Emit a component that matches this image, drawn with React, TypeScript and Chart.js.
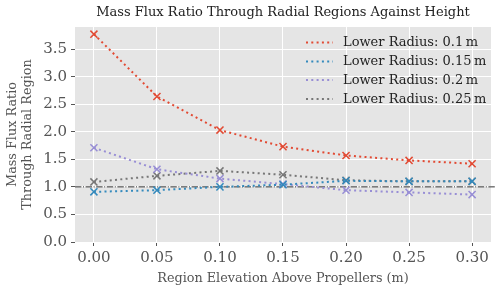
import React, { useEffect, useRef } from "react";
import { Chart, registerables } from "chart.js";

Chart.register(...registerables);

const xValues = [0, 0.05, 0.1, 0.15, 0.2, 0.25, 0.3];
const radius010 = [3.77, 2.64, 2.03, 1.73, 1.57, 1.48, 1.42];
const radius015 = [0.91, 0.94, 1.0, 1.04, 1.11, 1.1, 1.1];
const radius020 = [1.71, 1.32, 1.15, 1.05, 0.94, 0.9, 0.86];
const radius025 = [1.09, 1.2, 1.29, 1.22, 1.12, 1.1, 1.1];
const seriesLabels = [
  "Lower Radius: 0.1\u2009m",
  "Lower Radius: 0.15\u2009m",
  "Lower Radius: 0.2\u2009m",
  "Lower Radius: 0.25\u2009m",
];
const seriesColors = ["#E24A33", "#348ABD", "#988ED5", "#777777"];
const xTicks = [0, 0.05, 0.1, 0.15, 0.2, 0.25, 0.3];
const yTicks = [0, 0.5, 1.0, 1.5, 2.0, 2.5, 3.0, 3.5];
const referenceValue = 1.0;
const chartTitle = "Mass Flux Ratio Through Radial Regions Against Height";

const FONT = "'DejaVu Serif', serif";

export default function App() {
  const ref = useRef<HTMLCanvasElement | null>(null);

  useEffect(() => {
    document.body.style.margin = "0";
    const canvas = ref.current;
    if (!canvas) return;
    const allSeries = [radius010, radius015, radius020, radius025];

    const bgPlugin = {
      id: "bgPlugin",
      beforeDraw(chart: any) {
        const { ctx, chartArea } = chart;
        ctx.save();
        ctx.fillStyle = "#E5E5E5";
        ctx.fillRect(chartArea.left, chartArea.top, chartArea.right - chartArea.left, chartArea.bottom - chartArea.top);
        ctx.restore();
      },
      beforeDatasetsDraw(chart: any) {
        const { ctx, chartArea, scales } = chart;
        const y = scales.y.getPixelForValue(referenceValue);
        ctx.save();
        ctx.strokeStyle = "#333333";
        ctx.lineWidth = 1;
        ctx.setLineDash([6.4, 1.6, 1, 1.6]);
        ctx.beginPath();
        ctx.moveTo(chartArea.left, y);
        ctx.lineTo(chartArea.right + 4, y);
        ctx.stroke();
        ctx.restore();
      },
      afterDraw(chart: any) {
        const { ctx, chartArea } = chart;
        ctx.save();
        // title centred over the plot area
        ctx.font = `13px ${FONT}`;
        ctx.fillStyle = "#222222";
        ctx.textAlign = "center";
        ctx.textBaseline = "middle";
        ctx.fillText(chartTitle, (chartArea.left + chartArea.right) / 2, 12.5);
        // legend
        ctx.textBaseline = "middle";
        ctx.textAlign = "left";
        const rows = [42.5, 61.5, 80, 99];
        seriesLabels.forEach((label, i) => {
          const y = rows[i];
          ctx.strokeStyle = seriesColors[i];
          ctx.lineWidth = 2;
          ctx.setLineDash([2, 3.3]);
          ctx.beginPath();
          ctx.moveTo(306, y);
          ctx.lineTo(333, y);
          ctx.stroke();
          ctx.setLineDash([]);
          ctx.fillStyle = "#222222";
          ctx.fillText(label, 343, y + 0.5);
        });
        ctx.restore();
      },
    };

    const chart = new Chart(canvas, {
      type: "line",
      data: {
        datasets: allSeries.map((s, i) => ({
          label: seriesLabels[i],
          data: xValues.map((x, j) => ({ x, y: s[j] })),
          borderColor: seriesColors[i],
          backgroundColor: seriesColors[i],
          borderWidth: 2,
          borderDash: [2, 3.3],
          pointStyle: "crossRot",
          pointRadius: 5,
          pointBorderWidth: 1.5,
          pointBorderColor: seriesColors[i],
          fill: false,
          tension: 0,
        })),
      },
      options: {
        responsive: false,
        animation: false,
        layout: { padding: { left: 0, right: 9, top: 27, bottom: 0 } },
        plugins: {
          legend: { display: false },
          tooltip: { enabled: false },
          title: { display: false },
        },
        scales: {
          x: {
            type: "linear",
            min: -0.015,
            max: 0.315,
            afterBuildTicks: (scale: any) => {
              scale.ticks = xTicks.map((v) => ({ value: v }));
            },
            afterFit: (scale: any) => {
              scale.height = 51;
            },
            ticks: {
              color: "#555555",
              font: { family: FONT, size: 15 },
              padding: 3,
              maxRotation: 0,
              autoSkip: false,
              callback: (v: any) => Number(v).toFixed(2),
            },
            grid: { color: "#FFFFFF", lineWidth: 1, tickColor: "#555555", tickLength: 4 },
            border: { display: false },
            title: {
              display: true,
              text: "Region Elevation Above Propellers (m)",
              color: "#555555",
              font: { family: FONT, size: 12.8 },
              padding: { top: 2, bottom: 7 },
            },
          },
          y: {
            type: "linear",
            min: 0,
            max: 3.9,
            afterBuildTicks: (scale: any) => {
              scale.ticks = yTicks.map((v) => ({ value: v }));
            },
            afterFit: (scale: any) => {
              scale.width = 75;
            },
            ticks: {
              color: "#555555",
              font: { family: FONT, size: 15 },
              padding: 4,
              autoSkip: false,
              callback: (v: any) => Number(v).toFixed(1),
            },
            grid: { color: "#FFFFFF", lineWidth: 1, tickColor: "#555555", tickLength: 4 },
            border: { display: false },
            title: {
              display: true,
              text: ["Mass Flux Ratio", "Through Radial Region"],
              color: "#555555",
              font: { family: FONT, size: 12.8, lineHeight: 1.2 },
              padding: { top: 5, bottom: 2 },
            },
          },
        },
      },
      plugins: [bgPlugin],
    } as any);

    return () => chart.destroy();
  }, []);

  return (
    <div style={{ width: 500, height: 293, background: "#FFFFFF" }}>
      <canvas ref={ref} width={500} height={293} style={{ display: "block" }} />
    </div>
  );
}
